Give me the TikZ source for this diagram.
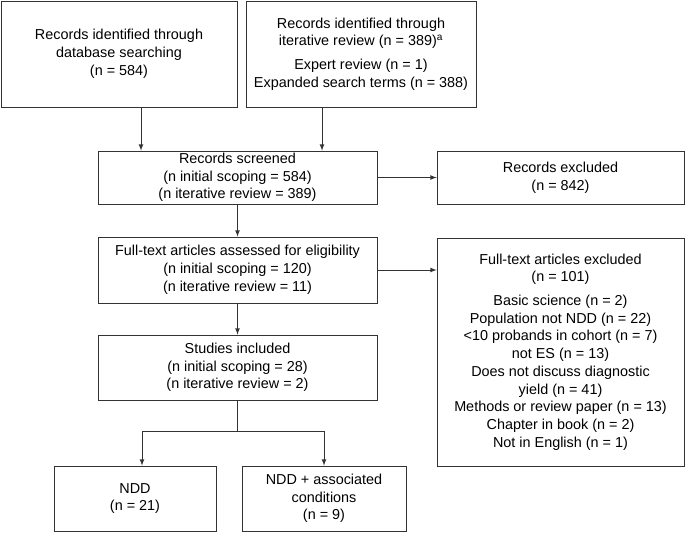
\documentclass[tikz,border=0pt]{standalone}
\usepackage{fontspec}
\setmainfont{Liberation Sans}
\usetikzlibrary{arrows,positioning,calc}

\begin{document}
\begin{tikzpicture}[x=0.75pt,y=-0.75pt]
  \tikzstyle{box}=[rectangle, draw=black!80, line width=0.6pt, align=center, inner sep=0pt, font=\fontsize{10.8}{13.3}\selectfont]
  \tikzstyle{arrow}=[draw=black!80, line width=0.6pt, -latex]
  \useasboundingbox (0,0) rectangle (685,532);

  % Identification
  \node[box, minimum width=177pt, minimum height=79.5pt] (db) at (119,54) {Records identified through\\database searching\\(n = 584)};
  \node[box, minimum width=172.5pt, minimum height=79.5pt] (iter) at (361,54) {Records identified through\\iterative review (n = 389)\textsuperscript{a}\\[4.5pt]Expert review (n = 1)\\Expanded search terms (n = 388)};

  % Screening
  \node[box, minimum width=209.25pt, minimum height=39.75pt] (screened) at (237.5,177.5) {Records screened\\(n initial scoping = 584)\\(n iterative review = 389)};
  \node[box, minimum width=185.25pt, minimum height=39.75pt] (recexcl) at (560.5,177.5) {Records excluded\\(n = 842)};

  % Eligibility
  \node[box, minimum width=209.25pt, minimum height=49.5pt] (fulltext) at (237.5,270) {Full-text articles assessed for eligibility\\(n initial scoping = 120)\\(n iterative review = 11)};
  \node[box, minimum width=185.25pt, minimum height=171pt] (ftexcl) at (560.5,352) {Full-text articles excluded\\(n = 101)\\[4.5pt]Basic science (n = 2)\\Population not NDD (n = 22)\\<10 probands in cohort (n = 7)\\not ES (n = 13)\\Does not discuss diagnostic\\yield (n = 41)\\Methods or review paper (n = 13)\\Chapter in book (n = 2)\\Not in English (n = 1)};

  % Included
  \node[box, minimum width=209.25pt, minimum height=48.75pt] (included) at (237.5,367.5) {Studies included\\(n initial scoping = 28)\\(n iterative review = 2)};
  \node[box, minimum width=121.5pt, minimum height=48.75pt] (ndd) at (135,498.5) {NDD\\(n = 21)};
  \node[box, minimum width=123pt, minimum height=48.75pt] (nddassoc) at (324,498.5) {NDD + associated\\conditions\\(n = 9)};

  % Connectors
  \coordinate (dbdrop) at (141,0);
  \coordinate (iterdrop) at (322,0);
  \coordinate (splitl) at (142,431);
  \coordinate (splitr) at (324,431);

  \draw[arrow] (db.south -| dbdrop) -- (dbdrop |- screened.north);
  \draw[arrow] (iter.south -| iterdrop) -- (iterdrop |- screened.north);
  \draw[arrow] (screened.east) -- (recexcl.west);
  \draw[arrow] (screened.south) -- (fulltext.north);
  \draw[arrow] (fulltext.east) -- (fulltext.east -| ftexcl.west);
  \draw[arrow] (fulltext.south) -- (included.north);
  \draw[arrow] (included.south) -- (included.south |- splitl) -| (splitl |- ndd.north);
  \draw[arrow] (included.south |- splitr) -| (splitr |- nddassoc.north);
\end{tikzpicture}
\end{document}
